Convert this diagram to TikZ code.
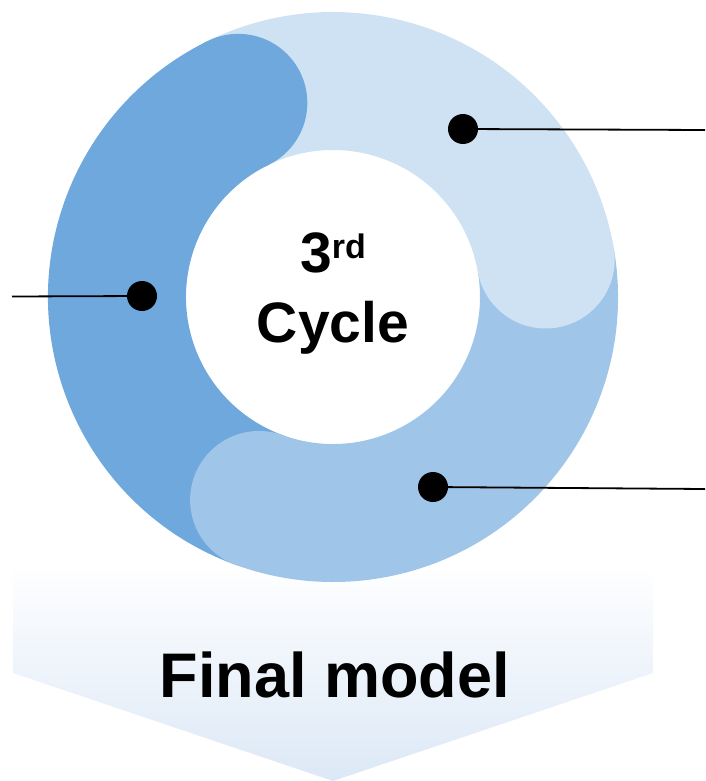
\documentclass[tikz,border=0pt]{standalone}
\usepackage{fontspec}
\setmainfont{Liberation Sans}
\definecolor{segdark}{HTML}{6FA8DC}
\definecolor{segmid}{HTML}{9FC5E8}
\definecolor{seglight}{HTML}{CFE2F3}
\definecolor{arrowblue}{HTML}{DCE8F6}
\begin{document}
\begin{tikzpicture}[x=1pt,y=-1pt,
  dotmark/.style={circle,fill=black,inner sep=0pt,minimum size=30pt},
  leader/.style={line width=1.8pt,black},
  bigtext/.style={font=\bfseries\fontsize{57}{60}\selectfont,inner sep=0pt,anchor=base}]
\useasboundingbox (0,0) rectangle (705,781);

% downward arrow banner with vertical fade
\shade[top color=white,bottom color=arrowblue]
  (13,565) -- (653,565) -- (653,673) -- (333,781) -- (13,673) -- cycle;
\node[font=\bfseries\fontsize{63}{66}\selectfont,inner sep=0pt,anchor=base]
  (final) at (335,697) {Final model};

% ring: three annular sectors, then the rounded heads on top
\coordinate (c) at (333,297);
\def\Ro{285}\def\Ri{147}\def\Rm{216}\def\Rc{69}
\fill[segdark] ([shift={(110:\Ro)}]c) arc[start angle=110,end angle=244,radius=\Ro]
  -- ([shift={(244:\Ri)}]c) arc[start angle=244,end angle=110,radius=\Ri] -- cycle;
\fill[seglight] ([shift={(244:\Ro)}]c) arc[start angle=244,end angle=350,radius=\Ro]
  -- ([shift={(350:\Ri)}]c) arc[start angle=350,end angle=244,radius=\Ri] -- cycle;
\fill[segmid] ([shift={(350:\Ro)}]c) arc[start angle=350,end angle=470,radius=\Ro]
  -- ([shift={(470:\Ri)}]c) arc[start angle=470,end angle=350,radius=\Ri] -- cycle;
\fill[segdark] ([shift={(244:\Rm)}]c) circle[radius=\Rc];
\fill[seglight] ([shift={(350:\Rm)}]c) circle[radius=\Rc];
\fill[segmid] ([shift={(110:\Rm)}]c) circle[radius=\Rc];

% centre label
\node[bigtext] (ord) at (333,272) {3\raisebox{14pt}{\fontsize{34}{36}\selectfont rd}};
\node[bigtext] (cyc) at (333,342) {Cycle};

% markers and leader lines
\node[dotmark] (d1) at (463,129) {};
\node[dotmark] (d2) at (142,296) {};
\node[dotmark] (d3) at (433,487) {};
\coordinate (e1) at (705,130);
\coordinate (e2) at (12,296.5);
\coordinate (e3) at (705,489);
\draw[leader] (d1) -- (e1);
\draw[leader] (d2) -- (e2);
\draw[leader] (d3) -- (e3);
\end{tikzpicture}
\end{document}
